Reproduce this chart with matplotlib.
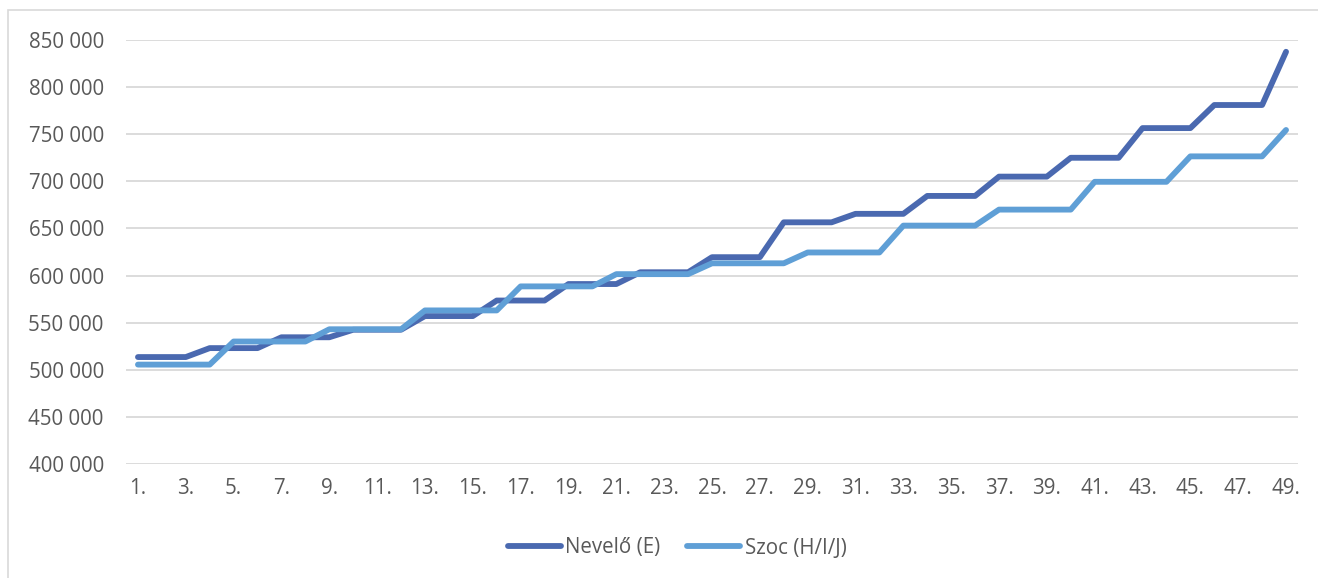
import matplotlib.pyplot as plt
from matplotlib.patches import Rectangle
from matplotlib.ticker import FuncFormatter, MultipleLocator

# Steps (49 grades).
positions = [f'{i}.' for i in range(1, 50)]
nevelo = ([513500] * 3 + [523000] * 3 + [534500] * 3 + [542500] * 3 +
          [557000] * 3 + [573500] * 3 + [591000] * 3 + [603500] * 3 +
          [619500] * 3 + [656500] * 3 + [665500] * 3 + [684500] * 3 +
          [705000] * 3 + [725000] * 3 + [756500] * 3 + [781000] * 3 +
          [837500])
szoc = ([505500] * 4 + [530000] * 4 + [543000] * 4 + [563000] * 4 +
        [588500] * 4 + [601500] * 4 + [613000] * 4 + [624500] * 4 +
        [653000] * 4 + [670000] * 4 + [699500] * 4 + [726500] * 4 +
        [754500])
series_names = ['Nevelő (E)', 'Szoc (H/I/J)']
series_colors = ['#4A69B0', '#5F9FD6']

plt.rcParams['font.family'] = ['Open Sans', 'DejaVu Sans']
grey = '#595959'

W, H = 1318, 578
fig = plt.figure(figsize=(W / 100, H / 100), dpi=100)
ax = fig.add_axes([126 / W, 1 - 464 / H, 1172 / W, 424 / H])

# outer chart border (only left and top visible in the crop)
fig.patches.append(Rectangle((8 / W, -0.1), 1.2, 1 - 10 / H + 0.1,
                             transform=fig.transFigure, fill=False,
                             edgecolor='#D9D9D9', linewidth=1.2))

x = list(range(len(positions)))
for vals, name, col in zip([nevelo, szoc], series_names, series_colors):
    ax.plot(x, vals, color=col, lw=4.2, label=name,
            solid_capstyle='round', solid_joinstyle='round')

ax.set_ylim(400000, 850000)
ax.set_xlim(-0.5, len(positions) - 0.5)
ax.yaxis.set_major_locator(MultipleLocator(50000))
ax.yaxis.set_major_formatter(
    FuncFormatter(lambda v, p: f'{int(v):,}'.replace(',', ' ')))
ax.set_xticks(x[::2])
ax.set_xticklabels(positions[::2])
ax.grid(axis='y', color='#D9D9D9', lw=1.3)
ax.set_axisbelow(True)
for s in ax.spines.values():
    s.set_visible(False)
ax.tick_params(axis='y', length=0, pad=16, labelsize=14.8, labelcolor=grey)
ax.tick_params(axis='x', length=0, pad=10, labelsize=14.8, labelcolor=grey)

fig.legend(loc='center', bbox_to_anchor=(677 / W, 1 - 548 / H),
           ncol=2, frameon=False, fontsize=14.8, labelcolor=grey,
           handlelength=2.6, handletextpad=0.2, columnspacing=1.3)

fig.savefig('out.png', dpi=100)
